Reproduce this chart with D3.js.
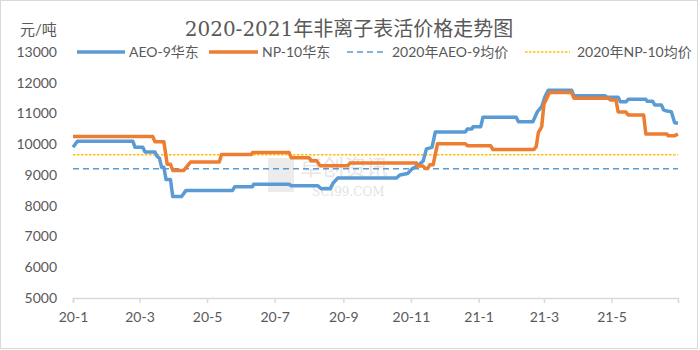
<!DOCTYPE html>
<html lang="zh">
<meta charset="utf-8">
<head>
    <script src="https://d3js.org/d3.v7.min.js"></script>
    <style>
        body { margin: 0; background: #fff; }
        text { font-family: Lato, "Noto Sans CJK SC", sans-serif; fill: #595959; }
    </style>
</head>
<body>
</body>

<script>
    var width = 700, height = 350;

    // AEO-9 华东 (dates / prices)
    var aeoDates = ['2020-01-01','2020-01-05','2020-02-24','2020-02-26','2020-03-04','2020-03-06','2020-03-15','2020-03-17',
        '2020-03-19','2020-03-21','2020-03-23','2020-03-25','2020-03-29','2020-03-31','2020-04-08','2020-04-12',
        '2020-05-24','2020-05-26','2020-06-11','2020-06-12','2020-07-14','2020-07-16','2020-08-09','2020-08-12',
        '2020-08-20','2020-08-23','2020-08-27','2020-10-19','2020-10-22','2020-10-29','2020-11-02','2020-11-07',
        '2020-11-12','2020-11-15','2020-11-20','2020-11-23','2020-12-20','2020-12-22','2020-12-26','2020-12-27',
        '2021-01-03','2021-01-05','2021-02-04','2021-02-06','2021-02-19','2021-02-23','2021-02-27','2021-03-02',
        '2021-03-05','2021-03-26','2021-03-28','2021-04-25','2021-04-27','2021-05-07','2021-05-09','2021-05-14',
        '2021-05-16','2021-06-01','2021-06-02','2021-06-07','2021-06-09','2021-06-15','2021-06-17','2021-06-20',
        '2021-06-24','2021-06-27','2021-06-30'];
    var aeoValues = [9900,10100,10100,9900,9900,9750,9750,9600,
        9550,9250,9250,8850,8850,8300,8300,8500,
        8500,8620,8620,8700,8700,8650,8650,8550,
        8550,8750,8900,8900,9000,9050,9200,9300,
        9450,9850,9900,10400,10400,10500,10500,10570,
        10570,10880,10880,10730,10730,11050,11220,11550,
        11760,11760,11580,11580,11530,11530,11380,11380,
        11460,11460,11400,11400,11280,11280,11120,11080,
        11060,10700,10680];

    // NP-10 华东
    var npDates = ['2020-01-01','2020-03-13','2020-03-15','2020-03-23','2020-03-26','2020-03-29','2020-03-31','2020-04-10',
        '2020-04-14','2020-04-16','2020-05-12','2020-05-14','2020-06-10','2020-06-11','2020-07-14','2020-07-16',
        '2020-08-01','2020-08-03','2020-08-08','2020-08-11','2020-09-05','2020-09-07','2020-11-06','2020-11-07',
        '2020-11-12','2020-11-14','2020-11-16','2020-11-18','2020-11-21','2020-11-25','2020-12-20','2020-12-22',
        '2021-01-12','2021-01-14','2021-02-20','2021-02-22','2021-02-24','2021-02-27','2021-03-01','2021-03-06',
        '2021-03-26','2021-03-28','2021-04-28','2021-04-30','2021-05-05','2021-05-07','2021-05-14','2021-05-16',
        '2021-05-30','2021-06-01','2021-06-20','2021-06-21','2021-06-27','2021-06-30'];
    var npValues = [10250,10250,10080,10080,9350,9350,9150,9150,
        9330,9420,9420,9670,9670,9730,9730,9560,
        9560,9460,9460,9300,9300,9390,9390,9290,
        9290,9210,9210,9330,9330,10020,10020,9950,
        9950,9830,9830,9920,10380,10570,11300,11680,
        11680,11500,11500,11440,11440,11050,11050,10950,
        10950,10330,10330,10280,10280,10330];

    // 2020 average prices
    var avgAeo2020 = 9200;
    var avgNp2020 = 9660;

    var yTicks = [5000,6000,7000,8000,9000,10000,11000,12000,13000];
    var xTicks = ['2020-01-01','2020-03-01','2020-05-01','2020-07-01','2020-09-01','2020-11-01','2021-01-01','2021-03-01','2021-05-01'];

    var legendNames = ['AEO-9华东','NP-10华东','2020年AEO-9均价','2020年NP-10均价'];

    var parse = d3.timeParse('%Y-%m-%d');

    var svg = d3.select('body').append('svg').attr('width', width).attr('height', height);

    // chart frame
    svg.append('rect').attr('x', 0.5).attr('y', 0.5).attr('width', width - 3).attr('height', height - 2)
        .attr('fill', '#fff').attr('stroke', '#d9d9d9');

    var x = d3.scaleTime()
        .domain([parse('2020-01-01'), parse('2021-06-30')])
        .range([73, 678]);
    var y = d3.scaleLinear().domain([5000, 13000]).range([298, 52]);

    // watermark
    svg.append('rect').attr('x', 268).attr('y', 158).attr('width', 26).attr('height', 34)
        .attr('fill', '#c8c8c8').attr('opacity', 0.35);
    svg.append('text').attr('x', 300).attr('y', 175).text('卓创资讯')
        .style('font-size', '22px').style('fill', '#c8c8c8').style('opacity', 0.45);
    svg.append('text').attr('x', 312).attr('y', 196).text('SCI99.COM')
        .style('font-family', 'DejaVu Serif').style('font-size', '12px').style('fill', '#c8c8c8').style('opacity', 0.5);

    // y axis labels
    var yAxis = svg.append('g').attr('transform', 'translate(73,0)')
        .call(d3.axisLeft(y).tickValues(yTicks).tickFormat(d3.format('d')).tickSize(0).tickPadding(16));
    yAxis.select('.domain').remove();
    yAxis.selectAll('text').style('font-size', '14px').style('font-family', 'Lato').attr('fill', '#595959');

    // x axis
    var xAxis = svg.append('g').attr('transform', 'translate(0,298)')
        .call(d3.axisBottom(x).tickValues(xTicks.map(parse)).tickFormat(d3.timeFormat('%y-%-m')).tickSize(5).tickPadding(9));
    xAxis.select('.domain').attr('stroke', '#d9d9d9').attr('stroke-width', 1.5);
    xAxis.selectAll('line').attr('stroke', '#d9d9d9').attr('stroke-width', 1.5);
    xAxis.selectAll('text').style('font-size', '14px').style('font-family', 'Lato').attr('fill', '#595959');

    // average lines
    svg.append('line').attr('x1', x.range()[0]).attr('x2', x.range()[1])
        .attr('y1', y(avgAeo2020)).attr('y2', y(avgAeo2020))
        .attr('stroke', '#5b9bd5').attr('stroke-width', 1.5).attr('stroke-dasharray', '6,4');
    svg.append('line').attr('x1', x.range()[0]).attr('x2', x.range()[1])
        .attr('y1', y(avgNp2020)).attr('y2', y(avgNp2020))
        .attr('stroke', '#ffc000').attr('stroke-width', 1.5).attr('stroke-dasharray', '2.5,1.5');

    var line = d3.line()
        .x(function(d) { return x(d[0]); })
        .y(function(d) { return y(d[1]); });

    var aeo = aeoDates.map(function(d, i) { return [parse(d), aeoValues[i]]; });
    var np = npDates.map(function(d, i) { return [parse(d), npValues[i]]; });

    svg.append('path').datum(aeo).attr('d', line)
        .attr('fill', 'none').attr('stroke', '#5b9bd5').attr('stroke-width', 3.5).attr('stroke-linejoin', 'round');
    svg.append('path').datum(np).attr('d', line)
        .attr('fill', 'none').attr('stroke', '#ed7d31').attr('stroke-width', 3.5).attr('stroke-linejoin', 'round');

    // title and unit
    svg.append('text').attr('x', 349).attr('y', 36).attr('text-anchor', 'middle')
        .style('font-family', '"DejaVu Serif", "Noto Sans CJK SC", serif').style('font-size', '20px')
        .text('2020-2021年非离子表活价格走势图');
    svg.append('text').attr('x', 20).attr('y', 35).style('font-size', '15px').text('元/吨');

    // legend
    var legend = [
        {x1: 77, x2: 125, tx: 129, color: '#5b9bd5', w: 3.5, dash: null},
        {x1: 209, x2: 258, tx: 262, color: '#ed7d31', w: 3.5, dash: null},
        {x1: 347, x2: 384, tx: 392, color: '#5b9bd5', w: 1.5, dash: '6,4'},
        {x1: 525, x2: 570, tx: 577, color: '#ffc000', w: 1.5, dash: '2.5,1.5'}
    ];
    legend.forEach(function(l, i) {
        svg.append('line').attr('x1', l.x1).attr('x2', l.x2).attr('y1', 52).attr('y2', 52)
            .attr('stroke', l.color).attr('stroke-width', l.w).attr('stroke-dasharray', l.dash);
        svg.append('text').attr('x', l.tx).attr('y', 57).style('font-size', '14px').text(legendNames[i]);
    });
</script>
